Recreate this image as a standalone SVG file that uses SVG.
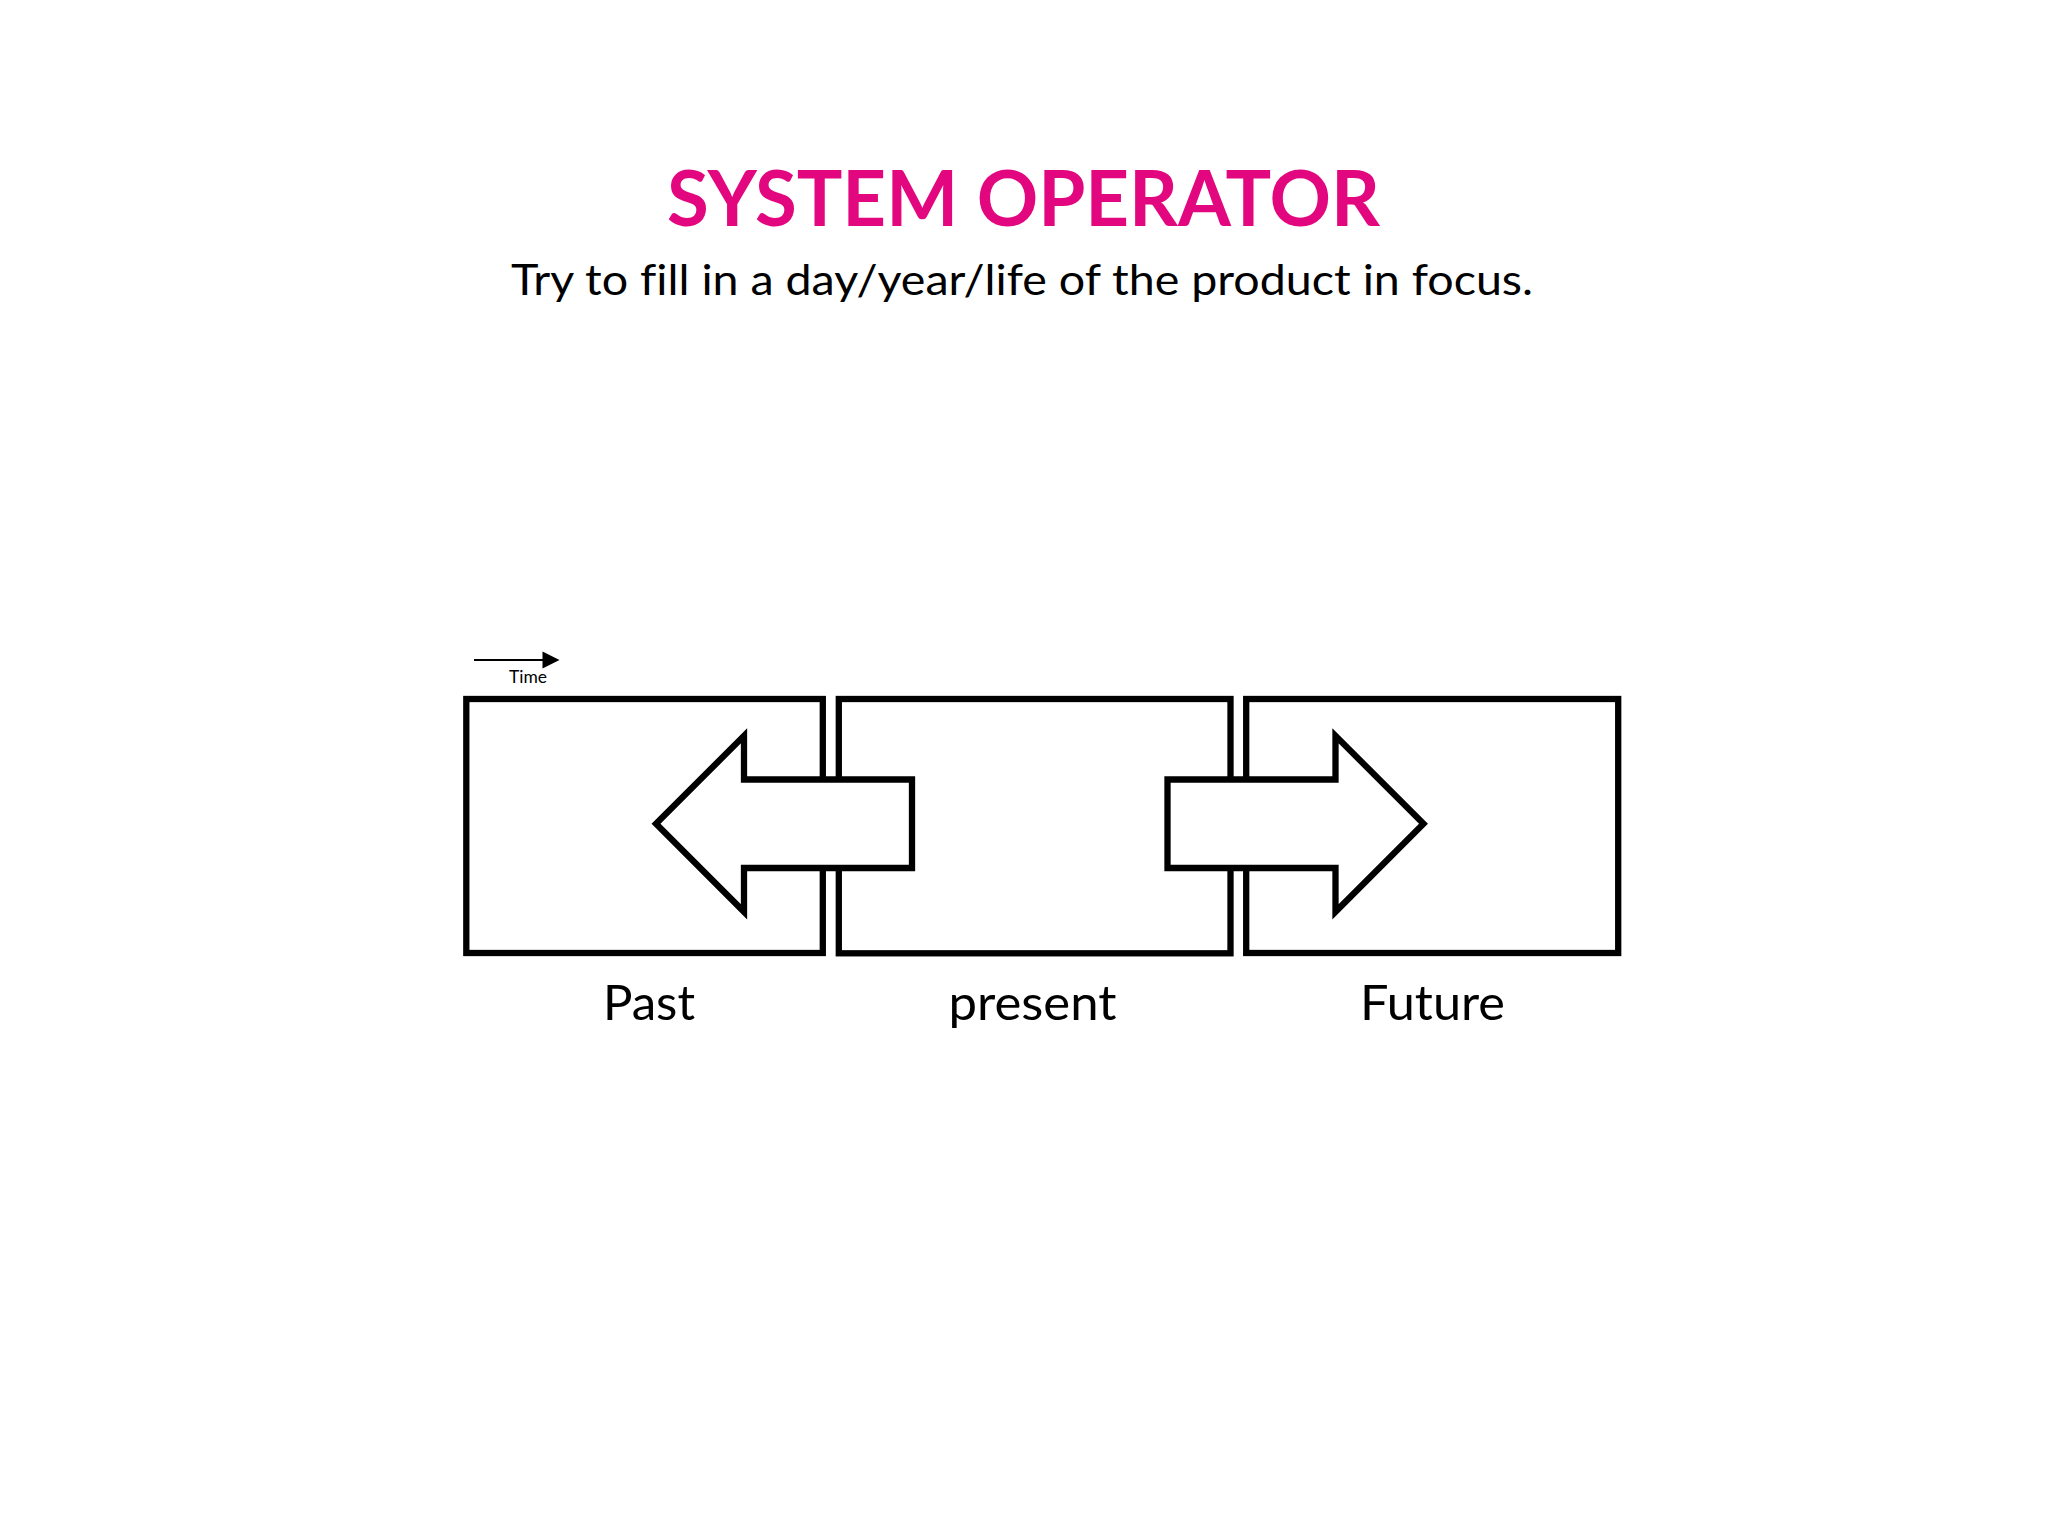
<svg xmlns="http://www.w3.org/2000/svg" width="2048" height="1536" viewBox="0 0 2048 1536">
  <style>
    .box { fill: #ffffff; stroke: #000000; stroke-width: 6.3; }
    .arrow { fill: #ffffff; stroke: #000000; stroke-width: 6.3; stroke-linejoin: miter; }
    .title { font-family: Lato, "Open Sans", "Liberation Sans", sans-serif; font-weight: bold; fill: #E3077F; font-variant-ligatures: none; }
    .txt { font-family: Lato, "Open Sans", "Liberation Sans", sans-serif; fill: #000000; font-variant-ligatures: none; }
  </style>
  <rect x="0" y="0" width="2048" height="1536" fill="#ffffff"/>

  <g id="title">
    <text class="title" x="1023.5" y="226" font-size="77" text-anchor="middle" textLength="713" lengthAdjust="spacingAndGlyphs">SYSTEM OPERATOR</text>
    <text class="txt" x="1022" y="295" font-size="43" text-anchor="middle" textLength="1022" lengthAdjust="spacingAndGlyphs">Try to fill in a day/year/life of the product in focus.</text>
  </g>

  <g id="time-indicator">
    <line x1="474" y1="660" x2="543" y2="660" stroke="#000000" stroke-width="2"/>
    <polygon points="542.5,651.5 559.5,660 542.5,668.5" fill="#000000"/>
    <text class="txt" x="528" y="683" font-size="18" text-anchor="middle" textLength="38" lengthAdjust="spacingAndGlyphs">Time</text>
  </g>

  <g id="past">
    <rect class="box" x="466.3" y="699" width="356.5" height="254"/>
    <text class="txt" x="649" y="1020" font-size="47.5" text-anchor="middle" textLength="92" lengthAdjust="spacingAndGlyphs">Past</text>
  </g>

  <g id="present">
    <rect class="box" x="838.8" y="699" width="391.7" height="254.3"/>
    <text class="txt" x="1032.5" y="1020" font-size="47.5" text-anchor="middle" textLength="168" lengthAdjust="spacingAndGlyphs">present</text>
  </g>

  <g id="future">
    <rect class="box" x="1246.2" y="699" width="372" height="254"/>
    <text class="txt" x="1432.5" y="1020" font-size="47.5" text-anchor="middle" textLength="145" lengthAdjust="spacingAndGlyphs">Future</text>
  </g>

  <g id="connectors">
    <polygon id="arrow-to-past" class="arrow" points="656,823.8 744,735.8 744,779.5 912,779.5 912,868 744,868 744,911.8"/>
    <polygon id="arrow-to-future" class="arrow" points="1423.5,823.8 1335.5,735.8 1335.5,779.5 1167.5,779.5 1167.5,868 1335.5,868 1335.5,911.8"/>
  </g>
</svg>
